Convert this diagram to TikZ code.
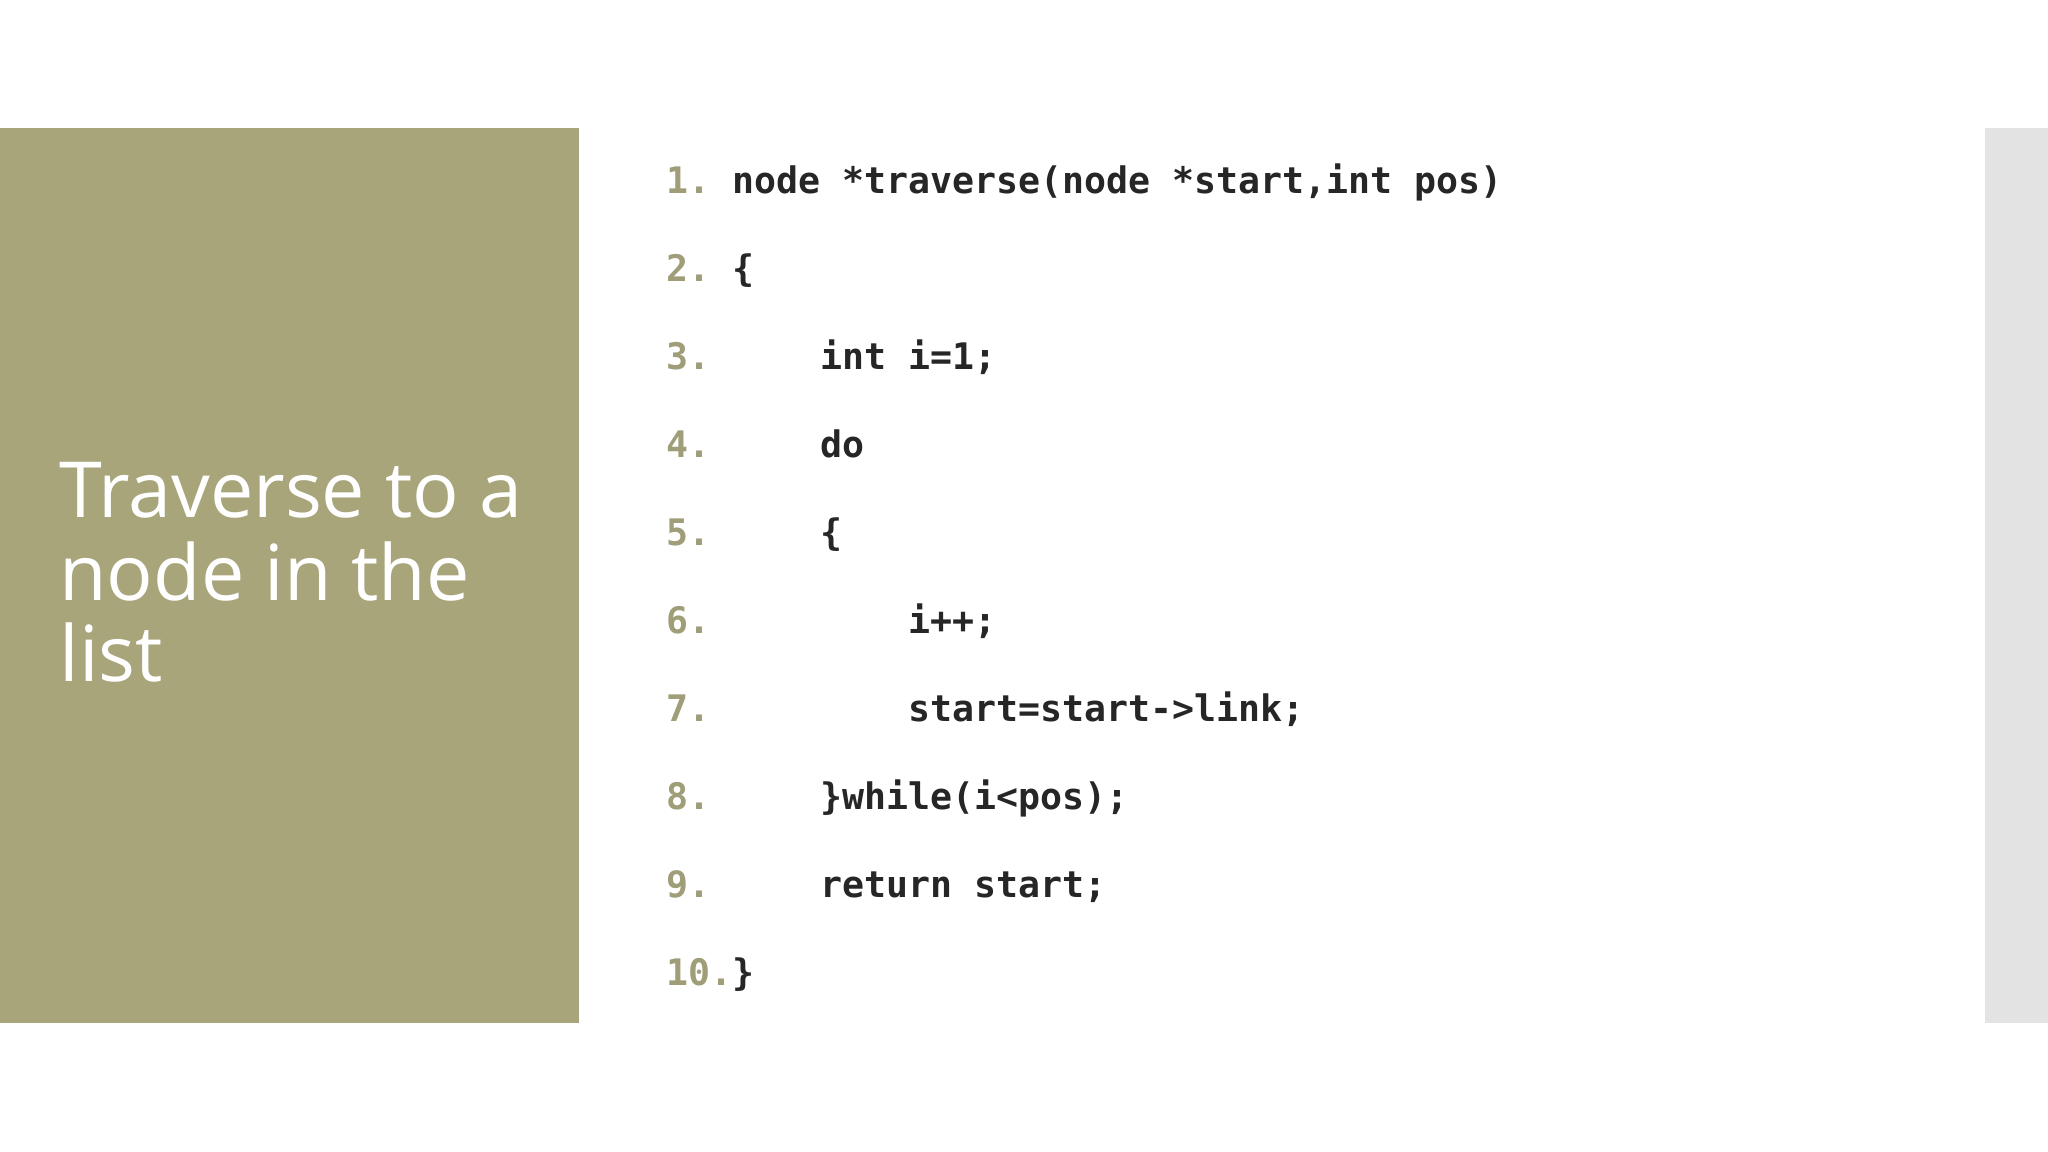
\documentclass[tikz,border=0pt]{standalone}
\usepackage{fontspec}
\setmainfont{Open Sans}
\setmonofont{DejaVu Sans Mono}
\definecolor{olive}{HTML}{A8A57B}
\definecolor{greybar}{HTML}{E3E3E3}
\definecolor{numc}{HTML}{A09E78}
\definecolor{codec}{HTML}{262626}
\begin{document}
\begin{tikzpicture}[x=0.01306cm,y=-0.01306cm,
  title/.style={anchor=base west,text=white,inner sep=0,font=\fontsize{22}{26}\selectfont},
  code/.style={anchor=base west,inner sep=0,font=\ttfamily\bfseries\fontsize{10.4}{12}\selectfont,text=codec}]
\useasboundingbox[fill=white] (0,0) rectangle (1568,882);
\fill[olive] (0,98) rectangle (443,783);
\fill[greybar] (1520,98) rectangle (1568,783);
\node[title] (t1) at (45,396) {Traverse to a};
\node[title] (t2) at (45,460) {node in the};
\node[title] (t3) at (45,522) {list};
\foreach \i/\t in {1/{node *traverse(node *start,int pos)},2/\{,3/{\ \ \ \ int i=1;},4/{\ \ \ \ do},5/{\ \ \ \ \{},6/{\ \ \ \ \ \ \ \ i++;},7/{\ \ \ \ \ \ \ \ start=start->link;},8/{\ \ \ \ \}while(i<pos);},9/{\ \ \ \ return start;}}{
  \node[code] (c\i) at (510,{148+67.4*(\i-1)}) {\textcolor{numc}{\i.}\ \t};
}
\node[code] (c10) at (510,{148+67.4*9}) {\textcolor{numc}{10.}\}};
\end{tikzpicture}
\end{document}
